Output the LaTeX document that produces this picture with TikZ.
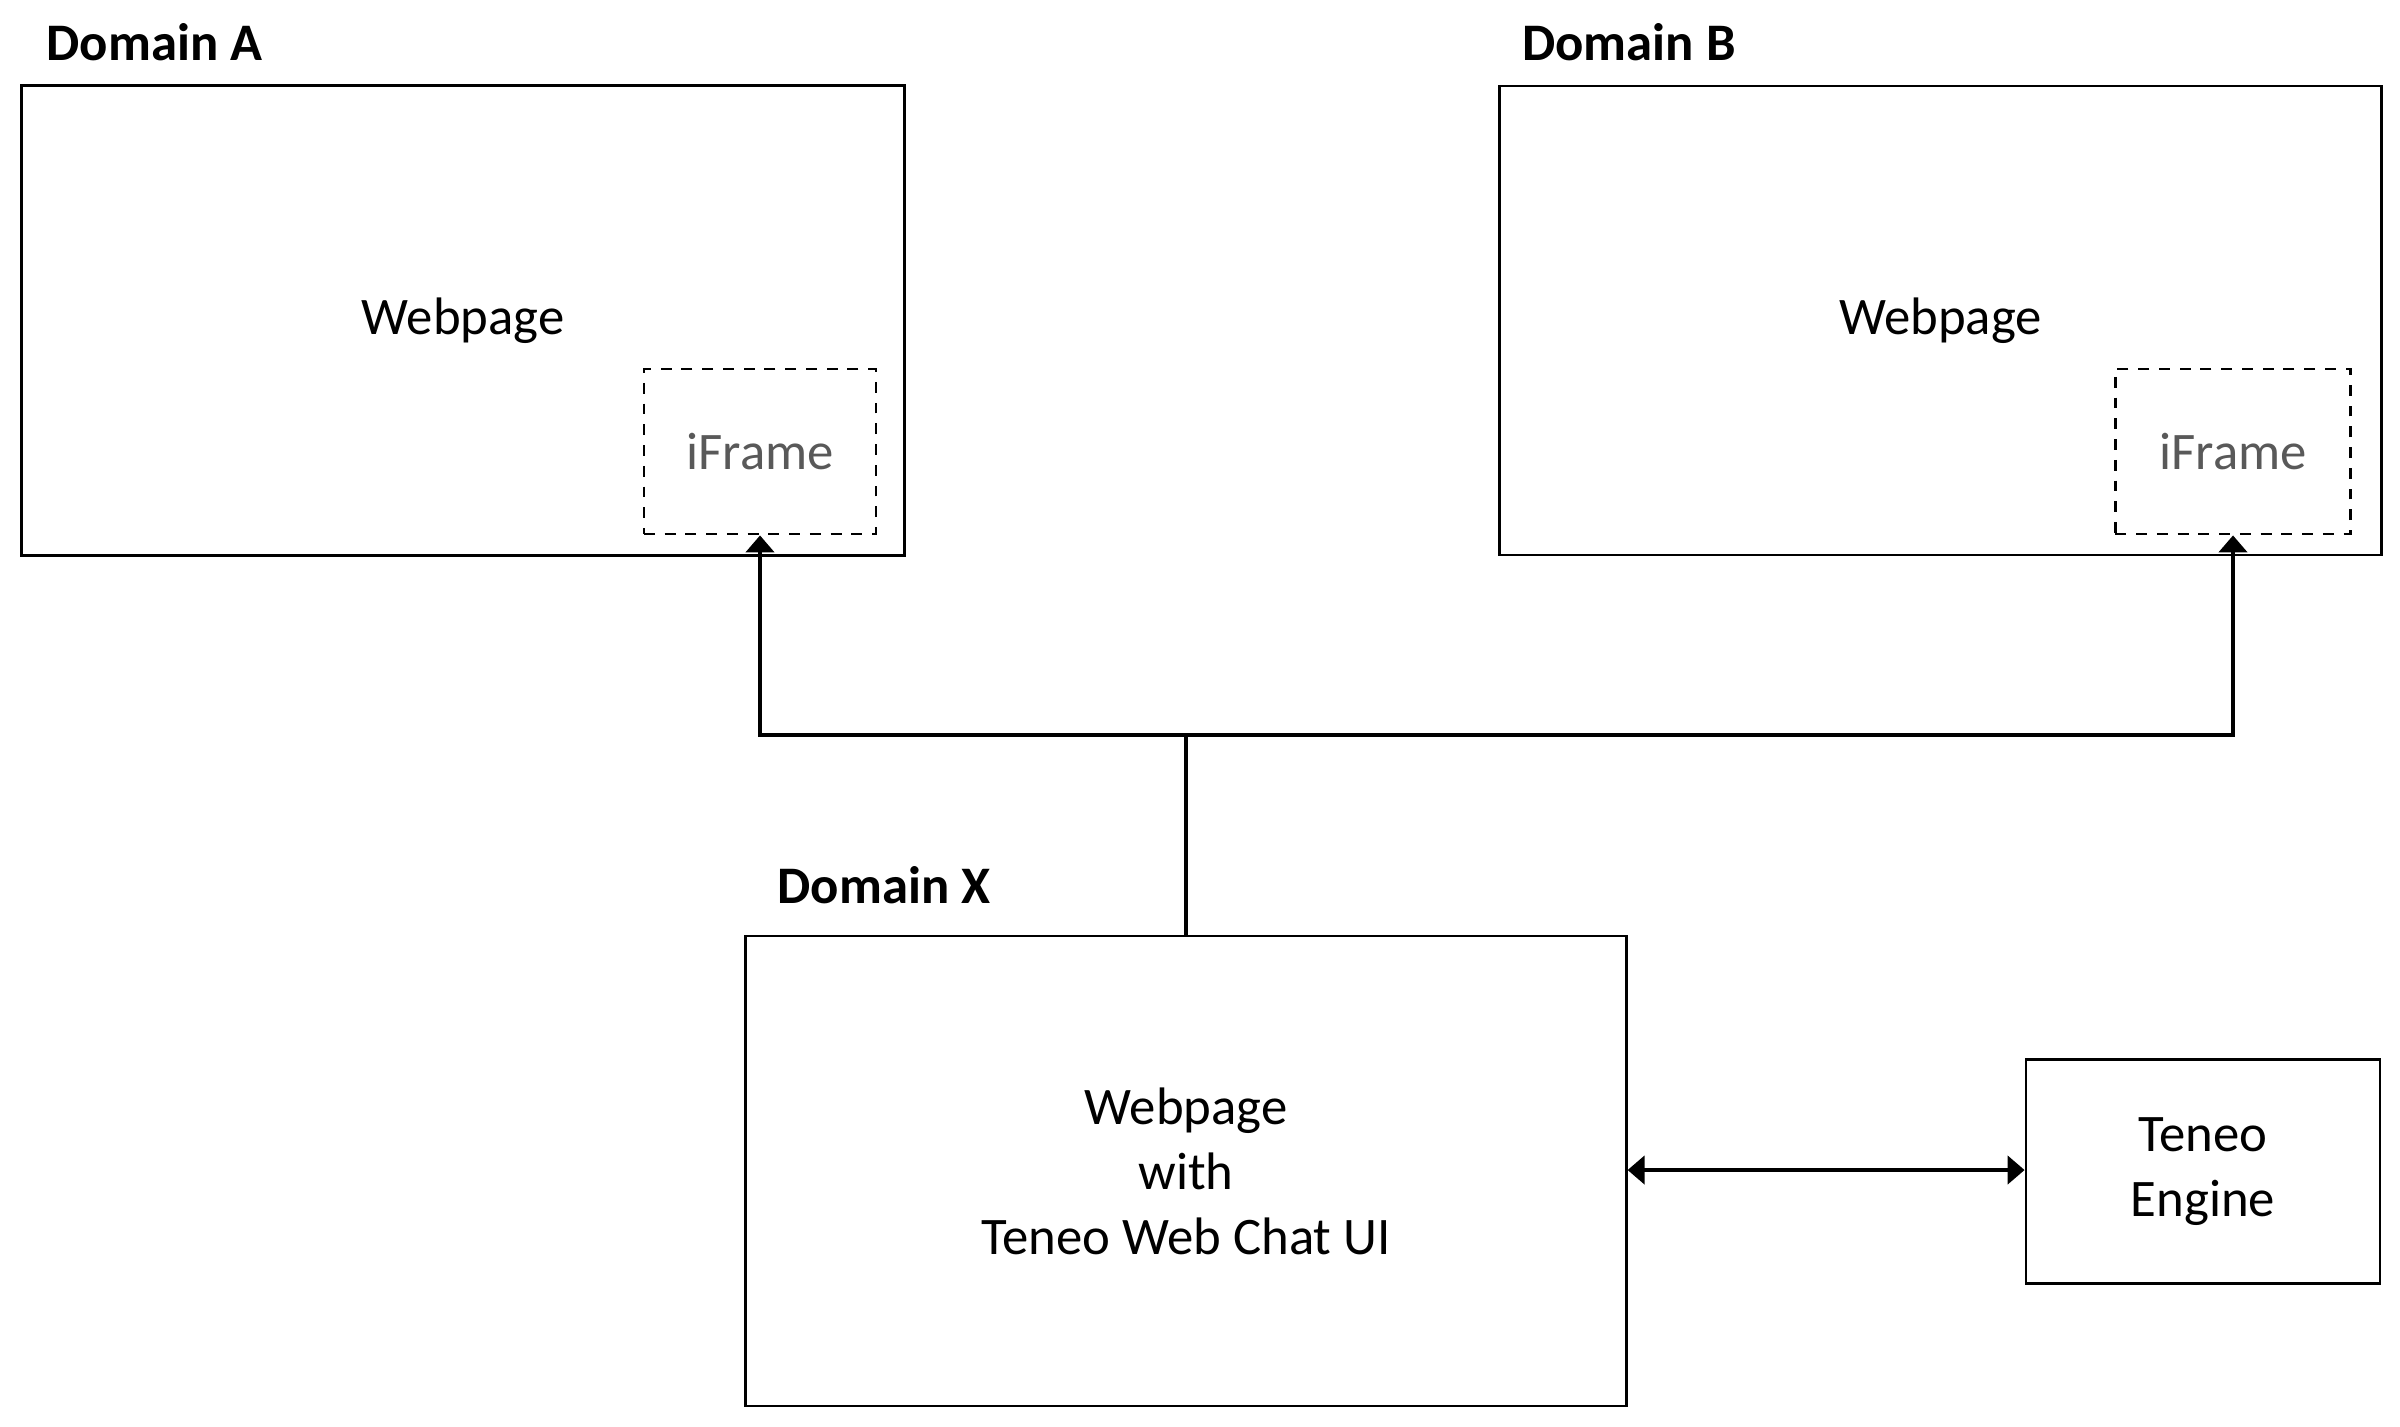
\documentclass[tikz,border=0pt]{standalone}
\usepackage{fontspec}
\setmainfont{Carlito}
\usetikzlibrary{arrows.meta}
\definecolor{ifgray}{HTML}{595959}
\begin{document}
\begin{tikzpicture}[x=0.01cm,y=-0.01cm,
  txt/.style={font=\fontsize{15pt}{18.5pt}\selectfont, align=center},
  lbl/.style={font=\fontsize{15pt}{18.5pt}\selectfont\bfseries, anchor=base west, inner sep=0pt},
  boxx/.style={draw=black, line width=0.75pt, rectangle, inner sep=0pt, txt},
  ifbox/.style={draw=black, line width=0.75pt, dash pattern=on 3.1pt off 2.8pt, rectangle, inner sep=0pt, txt, text=ifgray},
  conn/.style={line width=1.3pt, draw=black},
  tip/.style={-{Triangle[width=0.28cm,length=0.17cm]}},
  dtip/.style={{Triangle[width=0.28cm,length=0.17cm]}-{Triangle[width=0.28cm,length=0.17cm]}}
]
\path[use as bounding box] (0,0) rectangle (2400,1426);

% Domain A
\node[lbl] (la) at (46,60) {Domain A};
\node[boxx, minimum width=8.83cm, minimum height=4.70cm] (wa) at (463,320.6) {Webpage};
\node[ifbox, minimum width=2.32cm, minimum height=1.65cm] (ifa) at (760,451.5) {iFrame};

% Domain B
\node[lbl] (lb) at (1521.5,60.6) {Domain B};
\node[boxx, minimum width=8.81cm, minimum height=4.69cm] (wb) at (1940.5,320.5) {Webpage};
\node[ifbox, minimum width=2.35cm, minimum height=1.65cm] (ifb) at (2233,451.5) {iFrame};

% Domain X
\node[lbl] (lx) at (777,903.7) {Domain X};
\node[boxx, minimum width=8.80cm, minimum height=4.70cm] (wx) at (1186,1171) {Webpage\\with\\Teneo Web Chat UI};

% Teneo Engine
\node[boxx, minimum width=3.54cm, minimum height=2.24cm] (te) at (2203,1171.6) {Teneo\\Engine};

% connectors
\coordinate (j) at (1186,735);
\draw[conn] (wx.north) -- (j);
\draw[conn, tip] (j) -| (ifa.south);
\draw[conn, tip] (j) -| (ifb.south);
\draw[conn, dtip] (wx.east |- 0,1170) -- (te.west |- 0,1170);
\end{tikzpicture}
\end{document}
